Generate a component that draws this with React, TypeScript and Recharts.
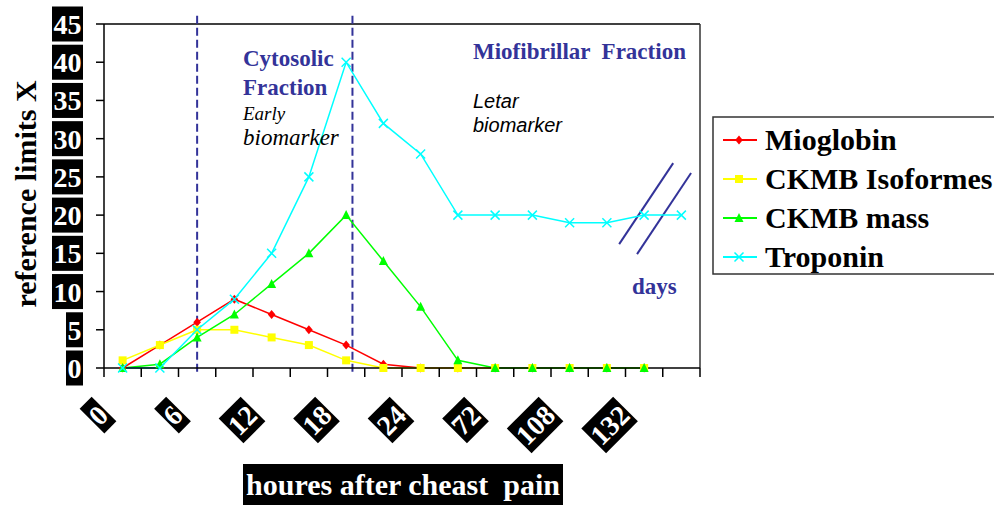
import React from "react";
import { Line, LineChart, ReferenceLine, XAxis, YAxis } from "recharts";

const categories = ["0", "", "6", "", "12", "", "18", "", "24", "", "72", "", "108", "", "132", ""];
const mioglobin = [0, 3, 6, 9, 7, 5, 3, 0.5, 0, 0, 0, 0, 0, 0, 0, null];
const ckmbIsoformes = [1, 3, 5, 5, 4, 3, 1, 0, 0, 0, 0, 0, 0, 0, 0, null];
const ckmbMass = [0, 0.5, 4, 7, 11, 15, 20, 14, 8, 1, 0, 0, 0, 0, 0, null];
const troponin = [0, 0, 5, 9, 15, 25, 40, 32, 28, 20, 20, 20, 19, 19, 20, 20];
const yTicks = [0, 5, 10, 15, 20, 25, 30, 35, 40, 45];
const xTicks = categories.map((_, i) => i).concat(categories.length);

// dashed separators between fractions, in category units
const phaseLines = [2.5, 6.67];
// axis break marks near the "days" part
const breakMarks = [
  [{ x: 13.83, y: 16.2 }, { x: 15.28, y: 26.8 }],
  [{ x: 14.31, y: 14.9 }, { x: 15.76, y: 25.5 }],
];

const series = [
  { key: "mioglobin", name: "Mioglobin", color: "#ff0000", marker: "diamond", values: mioglobin },
  { key: "ckmbIso", name: "CKMB Isoformes", color: "#ffff00", marker: "square", values: ckmbIsoformes },
  { key: "ckmbMass", name: "CKMB mass", color: "#00ff00", marker: "triangle", values: ckmbMass },
  { key: "troponin", name: "Troponin", color: "#00ffff", marker: "cross", values: troponin },
];

const data = categories.map((label, i) => {
  const row: Record<string, number | string | null> = { pos: i + 0.5, label };
  series.forEach((s) => {
    row[s.key] = s.values[i];
  });
  return row;
});

const SERIF = "'Liberation Serif', 'Times New Roman', serif";
const SANS = "'Liberation Sans', Arial, sans-serif";
const BLUE = "#333399";

const Marker = ({ kind, cx, cy, color }: { kind: string; cx: number; cy: number; color: string }) => {
  if (kind === "diamond")
    return <path d={`M${cx},${cy - 4.5}L${cx + 3.8},${cy}L${cx},${cy + 4.5}L${cx - 3.8},${cy}Z`} fill={color} />;
  if (kind === "square") return <rect x={cx - 4} y={cy - 4} width={8} height={8} fill={color} />;
  if (kind === "triangle")
    return <path d={`M${cx},${cy - 5}L${cx + 4.5},${cy + 4}L${cx - 4.5},${cy + 4}Z`} fill={color} />;
  return (
    <path
      d={`M${cx - 4.5},${cy - 4.5}L${cx + 4.5},${cy + 4.5}M${cx + 4.5},${cy - 4.5}L${cx - 4.5},${cy + 4.5}`}
      stroke={color}
      strokeWidth={1.5}
      fill="none"
    />
  );
};

const YTick = (props: any) => {
  const { x, y, payload } = props;
  const s = String(payload.value);
  const w = s.length * 14 + 3;
  return (
    <g>
      <rect x={x - w} y={y - 17.5} width={w} height={35} fill="#000" />
      <text x={x - 1.5} y={y + 10} textAnchor="end" fill="#fff" fontFamily={SERIF} fontWeight="bold" fontSize={28}>
        {s}
      </text>
    </g>
  );
};

const XTick = (props: any) => {
  const { x, y, payload } = props;
  const label = categories[payload.value];
  if (!label) return <g />;
  const w = label.length * 14 + 3;
  return (
    <g transform={`translate(${x},${y + 30}) rotate(-45)`}>
      <rect x={-w} y={-17.5} width={w} height={35} fill="#000" />
      <text x={-1.5} y={10} textAnchor="end" fill="#fff" fontFamily={SERIF} fontWeight="bold" fontSize={28}>
        {label}
      </text>
    </g>
  );
};

export default function App() {
  return (
    <div style={{ position: "absolute", left: 0, top: 0, width: 994, height: 505, background: "#fff", overflow: "hidden" }}>
      <LineChart width={994} height={505} data={data} margin={{ top: 24, right: 294, left: 0, bottom: 0 }}>
        <XAxis
          dataKey="pos"
          type="number"
          domain={[0, 16]}
          ticks={xTicks}
          interval={0}
          tickSize={9}
          height={137}
          stroke="#000"
          strokeWidth={1.5}
          tick={XTick}
        />
        <YAxis
          type="number"
          domain={[0, 45]}
          ticks={yTicks}
          interval={0}
          tickSize={8}
          tickMargin={13}
          width={104}
          stroke="#000"
          strokeWidth={1.5}
          tick={YTick}
        />
        <ReferenceLine y={45} stroke="#000" strokeWidth={1.5} ifOverflow="visible" />
        <ReferenceLine x={16} stroke="#333" strokeWidth={1.5} ifOverflow="visible" />
        {phaseLines.map((px) => (
          <ReferenceLine
            key={px}
            segment={[{ x: px, y: -0.5 }, { x: px, y: 46.6 }]}
            stroke={BLUE}
            strokeWidth={2}
            strokeDasharray="8 4"
            ifOverflow="visible"
          />
        ))}
        {breakMarks.map((seg, i) => (
          <ReferenceLine key={`b${i}`} segment={seg} stroke={BLUE} strokeWidth={2} ifOverflow="visible" />
        ))}
        {series.map((s) => (
          <Line
            key={s.key}
            type="linear"
            dataKey={s.key}
            name={s.name}
            stroke={s.color}
            strokeWidth={1.5}
            isAnimationActive={false}
            dot={(p: any) =>
              p.cx == null || p.cy == null || p.value == null ? (
                <g key={`${s.key}-${p.index}`} />
              ) : (
                <Marker key={`${s.key}-${p.index}`} kind={s.marker} cx={p.cx} cy={p.cy} color={s.color} />
              )
            }
            activeDot={false}
          />
        ))}
      </LineChart>

      <svg width={994} height={505} style={{ position: "absolute", left: 0, top: 0, pointerEvents: "none" }}>
        {/* axis titles */}
        <text
          transform="translate(35.5,194) rotate(-90)"
          textAnchor="middle"
          fontFamily={SERIF}
          fontWeight="bold"
          fontSize={30}
          fill="#000"
        >
          reference limits X
        </text>
        <rect x={243} y={464} width={320} height={45} fill="#000" />
        <text
          x={403}
          y={495}
          textAnchor="middle"
          fontFamily={SERIF}
          fontWeight="bold"
          fontSize={30}
          fill="#fff"
          style={{ whiteSpace: "pre" }}
        >
          {"houres after cheast  pain"}
        </text>

        {/* annotations */}
        <g fontFamily={SERIF} fontWeight="bold" fontSize={23} fill={BLUE}>
          <text x={243} y={66}>Cytosolic</text>
          <text x={243} y={95}>Fraction</text>
          <text x={473} y={59} style={{ whiteSpace: "pre" }}>
            {"Miofibrillar  Fraction"}
          </text>
          <text x={632} y={294}>days</text>
        </g>
        <g fontFamily={SERIF} fontStyle="italic" fill="#000">
          <text x={243} y={120} fontSize={19}>Early</text>
          <text x={243} y={145} fontSize={23}>biomarker</text>
        </g>
        <g fontFamily={SANS} fontStyle="italic" fontSize={20} fill="#000">
          <text x={473} y={108}>Letar</text>
          <text x={473} y={132}>biomarker</text>
        </g>

        {/* legend */}
        <rect x={713} y={117} width={300} height={157} fill="#fff" stroke="#333" strokeWidth={1.5} />
        {series.map((s, i) => {
          const cy = 140 + i * 39;
          return (
            <g key={s.key}>
              <line x1={723} x2={757} y1={cy} y2={cy} stroke={s.color} strokeWidth={2} />
              <Marker kind={s.marker} cx={739} cy={cy} color={s.color} />
              <text x={765} y={cy + 10} fontFamily={SERIF} fontWeight="bold" fontSize={30} fill="#000">
                {s.name}
              </text>
            </g>
          );
        })}
      </svg>
    </div>
  );
}
